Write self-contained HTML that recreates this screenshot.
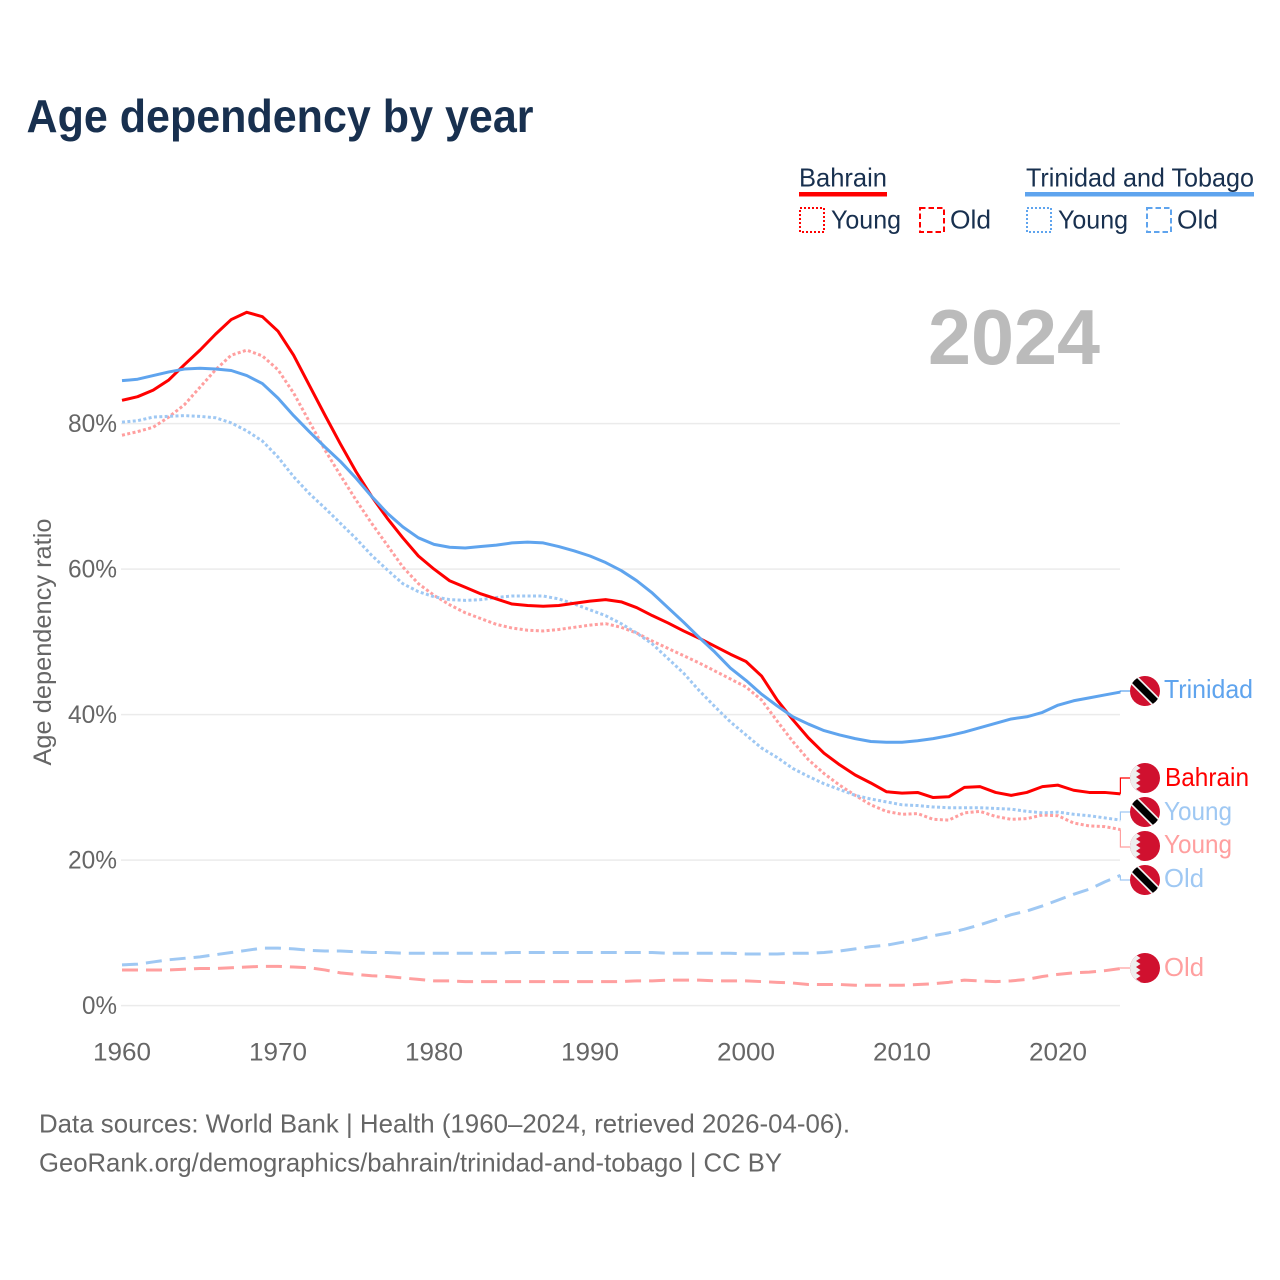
<!DOCTYPE html>
<html lang="en">
<head>
<meta charset="utf-8">
<title>Age dependency by year</title>
<style>
html,body{margin:0;padding:0;background:#fff;}
svg{display:block;}
text{font-family:"Liberation Sans",sans-serif;}
</style>
</head>
<body>
<svg id="chart" xmlns="http://www.w3.org/2000/svg" width="1280" height="1280" viewBox="0 0 1280 1280">
  <defs>
    <clipPath id="flag-clip"><circle cx="0" cy="0" r="15"/></clipPath>
    <g id="flag-tt" clip-path="url(#flag-clip)">
      <rect x="-16" y="-16" width="32" height="32" fill="#d0112f"/>
      <line x1="-16" y1="-16" x2="16" y2="16" stroke="#f2f2f2" stroke-width="10.5"/>
      <line x1="-16" y1="-16" x2="16" y2="16" stroke="#000" stroke-width="7"/>
    </g>
    <g id="flag-bh" clip-path="url(#flag-clip)">
      <rect x="-16" y="-16" width="32" height="32" fill="#d0112f"/>
      <polygon fill="#eeeeee" points="-16,-16 -5,-16 -9,-13 -4.5,-10 -9,-7 -4.5,-4 -9,-1 -4.5,2 -9,5 -4.5,8 -9,11 -4.5,14 -7,16 -16,16"/>
    </g>
  </defs>

  <text x="26.5" y="132" font-size="46" font-weight="700" fill="#18304f" textLength="507" lengthAdjust="spacingAndGlyphs">Age dependency by year</text>

  <g>
    <text x="799" y="186.5" font-size="26" fill="#18304f" textLength="88" lengthAdjust="spacingAndGlyphs">Bahrain</text>
    <rect x="799" y="192" width="88" height="4.5" fill="#ff0000"/>
    <rect x="800" y="208" width="24" height="24" fill="none" stroke="#ff0000" stroke-width="2" stroke-dasharray="2 2"/>
    <text x="831" y="228.5" font-size="26" fill="#18304f" textLength="70" lengthAdjust="spacingAndGlyphs">Young</text>
    <rect x="920" y="208" width="24" height="24" fill="none" stroke="#ff0000" stroke-width="2" stroke-dasharray="5.5 3"/>
    <text x="950" y="228.5" font-size="26" fill="#18304f" textLength="41" lengthAdjust="spacingAndGlyphs">Old</text>

    <text x="1026" y="186.5" font-size="26" fill="#18304f" textLength="228" lengthAdjust="spacingAndGlyphs">Trinidad and Tobago</text>
    <rect x="1025" y="192" width="229" height="4.5" fill="#5fa4ee"/>
    <rect x="1027" y="208" width="24" height="24" fill="none" stroke="#5fa4ee" stroke-width="2" stroke-dasharray="2 2"/>
    <text x="1058" y="228.5" font-size="26" fill="#18304f" textLength="70" lengthAdjust="spacingAndGlyphs">Young</text>
    <rect x="1147" y="208" width="24" height="24" fill="none" stroke="#5fa4ee" stroke-width="2" stroke-dasharray="5.5 3"/>
    <text x="1177" y="228.5" font-size="26" fill="#18304f" textLength="41" lengthAdjust="spacingAndGlyphs">Old</text>
  </g>

  <text x="928" y="364" font-size="78" font-weight="700" fill="#bbbbbb" textLength="172" lengthAdjust="spacingAndGlyphs">2024</text>

  <g id="grid"></g>
  <g id="yticks"></g>
  <g id="xticks"></g>
  <text transform="translate(51,642) rotate(-90)" text-anchor="middle" font-size="25" fill="#666666" textLength="247" lengthAdjust="spacingAndGlyphs">Age dependency ratio</text>

  <g id="series"></g>
  <g id="connectors"></g>

  <g>
    <use href="#flag-tt" x="1145" y="691"/>
    <text x="1164" y="698" font-size="26" fill="#5fa4ee" textLength="89" lengthAdjust="spacingAndGlyphs">Trinidad</text>
    <use href="#flag-bh" x="1145" y="778"/>
    <text x="1165" y="786" font-size="26" fill="#ff0000" textLength="84" lengthAdjust="spacingAndGlyphs">Bahrain</text>
    <use href="#flag-tt" x="1145" y="812"/>
    <text x="1164" y="820" font-size="26" fill="#9fc8f3" textLength="68" lengthAdjust="spacingAndGlyphs">Young</text>
    <use href="#flag-bh" x="1145" y="846"/>
    <text x="1164" y="853" font-size="26" fill="#ff9f9f" textLength="68" lengthAdjust="spacingAndGlyphs">Young</text>
    <use href="#flag-tt" x="1145" y="880"/>
    <text x="1164" y="887" font-size="26" fill="#9fc8f3" textLength="40" lengthAdjust="spacingAndGlyphs">Old</text>
    <use href="#flag-bh" x="1145" y="968"/>
    <text x="1164" y="976" font-size="26" fill="#ff9f9f" textLength="40" lengthAdjust="spacingAndGlyphs">Old</text>
  </g>

  <text x="39" y="1132.5" font-size="26" fill="#666666" textLength="811" lengthAdjust="spacingAndGlyphs">Data sources: World Bank | Health (1960–2024, retrieved 2026-04-06).</text>
  <text x="39" y="1171.5" font-size="26" fill="#666666" textLength="743" lengthAdjust="spacingAndGlyphs">GeoRank.org/demographics/bahrain/trinidad-and-tobago | CC BY</text>
</svg>

<script>
const startYear = 1960;
const endYear = 2024;
const yTickValues = [0, 20, 40, 60, 80];
const xTickYears = [1960, 1970, 1980, 1990, 2000, 2010, 2020];

const bahrainTotal = [
  83.2,83.7,84.6,86.0,88.1,90.1,92.3,94.3,95.3,94.7,
  92.7,89.4,85.3,81.2,77.2,73.4,70.0,67.0,64.3,61.8,
  60.0,58.4,57.5,56.6,55.9,55.2,55.0,54.9,55.0,55.3,
  55.6,55.8,55.5,54.7,53.6,52.6,51.5,50.5,49.4,48.3,
  47.3,45.3,42.0,39.3,36.8,34.7,33.1,31.7,30.6,29.4,
  29.2,29.3,28.6,28.7,30.0,30.1,29.3,28.9,29.3,30.1,
  30.3,29.6,29.3,29.3,29.1
];
const trinidadTotal = [
  85.9,86.1,86.6,87.1,87.5,87.6,87.5,87.3,86.6,85.5,
  83.5,81.1,78.9,76.8,74.8,72.5,70.0,67.7,65.8,64.3,
  63.4,63.0,62.9,63.1,63.3,63.6,63.7,63.6,63.1,62.5,
  61.8,60.9,59.8,58.4,56.7,54.7,52.7,50.6,48.6,46.4,
  44.7,42.8,41.2,39.7,38.7,37.8,37.2,36.7,36.3,36.2,
  36.2,36.4,36.7,37.1,37.6,38.2,38.8,39.4,39.7,40.3,
  41.3,41.9,42.3,42.7,43.1
];
const bahrainYoung = [
  78.4,78.9,79.5,80.9,82.6,85.0,87.4,89.4,90.1,89.3,
  87.4,84.2,80.3,76.4,72.9,69.5,66.3,63.3,60.3,58.0,
  56.4,55.1,54.0,53.2,52.4,51.9,51.6,51.5,51.7,52.0,
  52.3,52.5,52.0,51.2,50.1,49.1,48.1,47.1,46.0,44.9,
  43.8,42.0,39.1,36.3,33.8,31.9,30.3,28.9,27.6,26.7,
  26.3,26.4,25.6,25.5,26.5,26.7,26.0,25.6,25.7,26.2,
  26.1,25.1,24.7,24.6,24.2
];
const trinidadYoung = [
  80.2,80.4,80.9,81.0,81.1,81.0,80.8,80.1,79.0,77.6,
  75.4,72.7,70.4,68.4,66.3,64.2,61.9,59.9,58.0,56.9,
  56.2,55.8,55.7,55.8,56.1,56.3,56.3,56.3,55.9,55.2,
  54.4,53.6,52.5,51.2,49.7,47.7,45.7,43.3,41.1,39.0,
  37.2,35.4,34.1,32.6,31.5,30.5,29.7,28.9,28.4,28.0,
  27.6,27.5,27.3,27.2,27.2,27.2,27.1,27.0,26.7,26.5,
  26.6,26.3,26.1,25.8,25.5
];
const bahrainOld = [
  4.9,4.9,4.9,4.9,5.0,5.1,5.1,5.2,5.3,5.4,
  5.4,5.3,5.2,4.9,4.5,4.3,4.1,4.0,3.8,3.6,
  3.4,3.4,3.3,3.3,3.3,3.3,3.3,3.3,3.3,3.3,
  3.3,3.3,3.3,3.4,3.4,3.5,3.5,3.5,3.4,3.4,
  3.4,3.3,3.2,3.1,2.9,2.9,2.9,2.8,2.8,2.8,
  2.8,2.9,3.0,3.2,3.5,3.4,3.3,3.4,3.6,4.0,
  4.3,4.5,4.6,4.8,5.1
];
const trinidadOld = [
  5.6,5.7,6.0,6.3,6.5,6.7,7.0,7.3,7.6,7.9,
  7.9,7.8,7.6,7.5,7.5,7.4,7.3,7.3,7.2,7.2,
  7.2,7.2,7.2,7.2,7.2,7.3,7.3,7.3,7.3,7.3,
  7.3,7.3,7.3,7.3,7.3,7.2,7.2,7.2,7.2,7.2,
  7.1,7.1,7.1,7.2,7.2,7.3,7.5,7.8,8.1,8.3,
  8.7,9.1,9.6,10.0,10.5,11.1,11.8,12.5,13.0,13.7,
  14.5,15.3,16.0,17.0,17.9
];

const SVG_NS = 'http://www.w3.org/2000/svg';
function xScale(year) { return 122 + (year - startYear) * (1120.4 - 122) / (endYear - startYear); }
function yScale(v) { return 1005.6 - v * 7.275; }

const gridLayer = document.getElementById('grid');
const yTickLayer = document.getElementById('yticks');
yTickValues.forEach(function (v) {
  const line = document.createElementNS(SVG_NS, 'line');
  
  
  line.setAttribute('x1', 121);
  line.setAttribute('x2', 1120);
  line.setAttribute('y1', yScale(v));
  line.setAttribute('y2', yScale(v));
  line.setAttribute('stroke', '#ebebeb');
  line.setAttribute('stroke-width', 1.5);
  gridLayer.appendChild(line);

  const label = document.createElementNS(SVG_NS, 'text');
  
  
  const txt = v + '%';
  const w = txt.length === 2 ? 35 : 49;
  label.setAttribute('x', 117 - w);
  label.setAttribute('y', yScale(v) + 8.5);
  label.setAttribute('font-size', 25);
  label.setAttribute('fill', '#666666');
  label.setAttribute('textLength', w);
  label.setAttribute('lengthAdjust', 'spacingAndGlyphs');
  label.textContent = txt;
  yTickLayer.appendChild(label);
});

const xTickLayer = document.getElementById('xticks');
xTickYears.forEach(function (yr) {
  const label = document.createElementNS(SVG_NS, 'text');
  
  
  label.setAttribute('x', xScale(yr) - 29);
  label.setAttribute('y', 1060.5);
  label.setAttribute('font-size', 25);
  label.setAttribute('fill', '#666666');
  label.setAttribute('textLength', 58);
  label.setAttribute('lengthAdjust', 'spacingAndGlyphs');
  label.textContent = String(yr);
  xTickLayer.appendChild(label);
});

function linePoints(values) {
  return values.map(function (v, i) {
    return xScale(startYear + i).toFixed(2) + ',' + yScale(v).toFixed(2);
  }).join(' ');
}

const seriesLayer = document.getElementById('series');
function drawSeries(values, name, color, width, dash) {
  const el = document.createElementNS(SVG_NS, 'polyline');
  
  
  el.setAttribute('points', linePoints(values));
  el.setAttribute('fill', 'none');
  el.setAttribute('stroke', color);
  el.setAttribute('stroke-width', width);
  el.setAttribute('stroke-linejoin', 'round');
  if (dash) el.setAttribute('stroke-dasharray', dash);
  seriesLayer.appendChild(el);
}
drawSeries(bahrainOld, 'line-bahrain-old', '#ff9f9f', 3, '16 8');
drawSeries(trinidadOld, 'line-trinidad-old', '#9fc8f3', 3, '16 8');
drawSeries(bahrainYoung, 'line-bahrain-young', '#ff9f9f', 3, '3 2.4');
drawSeries(trinidadYoung, 'line-trinidad-young', '#9fc8f3', 3, '3 2.4');
drawSeries(bahrainTotal, 'line-bahrain-total', '#ff0000', 3, null);
drawSeries(trinidadTotal, 'line-trinidad-total', '#5fa4ee', 3, null);

const connectorLayer = document.getElementById('connectors');
function drawConnector(values, flagCenterY, name, color) {
  const endX = xScale(endYear);
  const endY = yScale(values[values.length - 1]);
  const el = document.createElementNS(SVG_NS, 'polyline');
  
  
  el.setAttribute('points', endX + ',' + endY + ' ' + endX + ',' + flagCenterY + ' 1130,' + flagCenterY);
  el.setAttribute('fill', 'none');
  el.setAttribute('stroke', color);
  el.setAttribute('stroke-width', 1.2);
  connectorLayer.appendChild(el);
}
drawConnector(trinidadTotal, 691, 'connector-trinidad-total', '#5fa4ee');
drawConnector(bahrainTotal, 778, 'connector-bahrain-total', '#ff0000');
drawConnector(trinidadYoung, 812, 'connector-trinidad-young', '#9fc8f3');
drawConnector(bahrainYoung, 847, 'connector-bahrain-young', '#ff9f9f');
drawConnector(trinidadOld, 880, 'connector-trinidad-old', '#9fc8f3');
drawConnector(bahrainOld, 968, 'connector-bahrain-old', '#ff9f9f');
</script>
</body>
</html>
